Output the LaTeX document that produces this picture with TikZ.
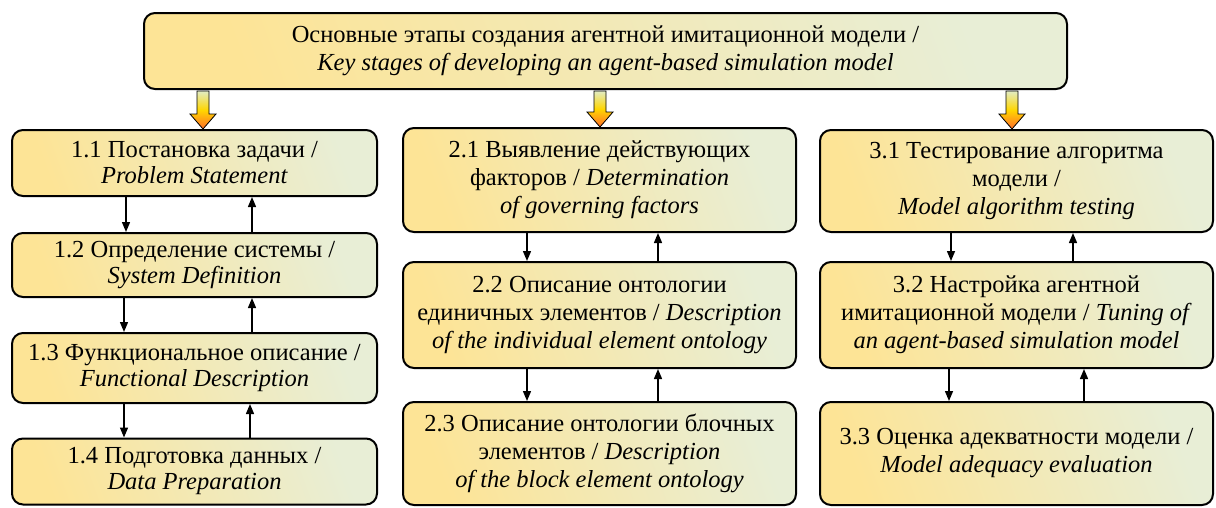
\documentclass[tikz,border=0pt]{standalone}
\usepackage{fontspec}
\setmainfont{Liberation Serif}
\newfontfamily\tnr{Liberation Serif}
\usetikzlibrary{arrows.meta,calc}
\definecolor{boxL}{RGB}{253,228,150}
\definecolor{boxR}{RGB}{232,238,214}
\definecolor{arTop}{RGB}{226,236,196}
\definecolor{arMid}{RGB}{255,214,0}
\definecolor{arBot}{RGB}{255,110,40}
\begin{document}
\begin{tikzpicture}[x=1pt,y=-1pt,
  stagebox/.style={draw=black, line width=2pt, rounded corners=11pt,
    left color=boxL, right color=boxR, shading angle=110,
    align=center, inner sep=0pt, font=\tnr\fontsize{24.5}{28}\selectfont},
  colone/.style={stagebox, font=\tnr\fontsize{24.5}{26}\selectfont},
  smallarr/.style={line width=1.4pt, -{Triangle[length=10pt,width=8pt]}},
  fatarr/.style={draw=black, line width=0.8pt, shading=axis,
    top color=arTop, bottom color=arBot, middle color=arMid}
]
\useasboundingbox (0,0) rectangle (1216,507);

\node[stagebox, minimum width=923pt, minimum height=76pt] (top) at (605.5,51)
  {Основные этапы создания агентной имитационной модели /\\
   \textit{Key stages of developing an agent-based simulation model}};

% column 1
\node[colone, minimum width=365pt, minimum height=66pt] (a1) at (194.5,163)
  {1.1 Постановка задачи /\\ \textit{Problem Statement}};
\node[colone, minimum width=365pt, minimum height=64pt] (a2) at (194.5,265)
  {1.2 Определение системы /\\ \textit{System Definition}};
\node[colone, minimum width=365pt, minimum height=70pt] (a3) at (194.5,368)
  {1.3 Функциональное описание /\\ \textit{Functional Description}};
\node[colone, minimum width=365pt, minimum height=66pt] (a4) at (194.5,471.5)
  {1.4 Подготовка данных /\\ \textit{Data Preparation}};

% column 2
\node[stagebox, minimum width=393pt, minimum height=104pt] (b1) at (599.5,180)
  {2.1 Выявление действующих\\ факторов / \textit{Determination}\\ \textit{of governing factors}};
\node[stagebox, minimum width=393pt, minimum height=106pt] (b2) at (599.5,315)
  {2.2 Описание онтологии\\ единичных элементов / \textit{Description}\\ \textit{of the individual element ontology}};
\node[stagebox, minimum width=393pt, minimum height=103pt] (b3) at (599.5,453.5)
  {2.3 Описание онтологии блочных\\ элементов / \textit{Description}\\ \textit{of the block element ontology}};

% column 3
\node[stagebox, minimum width=393pt, minimum height=102pt] (c1) at (1016.5,181)
  {3.1 Тестирование алгоритма\\ модели /\\ \textit{Model algorithm testing}};
\node[stagebox, minimum width=393pt, minimum height=106pt] (c2) at (1016.5,315)
  {3.2 Настройка агентной\\ имитационной модели / \textit{Tuning of}\\ \textit{an agent-based simulation model}};
\node[stagebox, minimum width=393pt, minimum height=103pt] (c3) at (1016.5,453.5)
  {3.3 Оценка адекватности модели /\\ \textit{Model adequacy evaluation}};

% fat arrows from top box
\foreach \xx/\tgt in {203/a1, 600/b1, 1012/c1}{
  \coordinate (s) at (\xx,0 |- top.south);
  \coordinate (e) at (\xx,0 |- \tgt.north);
  \path[fatarr] ($(s)+(-6,1)$) -- ($(e)+(-6,-15)$) -- ($(e)+(-13,-15)$) -- (e)
     -- ($(e)+(13,-15)$) -- ($(e)+(6,-15)$) -- ($(s)+(6,1)$) -- cycle;
}

% small arrows column 1
\draw[smallarr] ($(a1.south west)+(115,0)$) -- ($(a2.north west)+(115,0)$);
\draw[smallarr] ($(a2.north west)+(241,0)$) -- ($(a1.south west)+(241,0)$);
\draw[smallarr] ($(a2.south west)+(113,0)$) -- ($(a3.north west)+(113,0)$);
\draw[smallarr] ($(a3.north west)+(241,0)$) -- ($(a2.south west)+(241,0)$);
\draw[smallarr] ($(a3.south west)+(113,0)$) -- ($(a4.north west)+(113,0)$);
\draw[smallarr] ($(a4.north west)+(239,0)$) -- ($(a3.south west)+(239,0)$);

% column 2
\draw[smallarr] ($(b1.south west)+(125,0)$) -- ($(b2.north west)+(125,0)$);
\draw[smallarr] ($(b2.north west)+(256,0)$) -- ($(b1.south west)+(256,0)$);
\draw[smallarr] ($(b2.south west)+(125,0)$) -- ($(b3.north west)+(125,0)$);
\draw[smallarr] ($(b3.north west)+(256,0)$) -- ($(b2.south west)+(256,0)$);

% column 3
\draw[smallarr] ($(c1.south west)+(132,0)$) -- ($(c2.north west)+(132,0)$);
\draw[smallarr] ($(c2.north west)+(254,0)$) -- ($(c1.south west)+(254,0)$);
\draw[smallarr] ($(c2.south west)+(130,0)$) -- ($(c3.north west)+(130,0)$);
\draw[smallarr] ($(c3.north west)+(265,0)$) -- ($(c2.south west)+(265,0)$);
\end{tikzpicture}
\end{document}
